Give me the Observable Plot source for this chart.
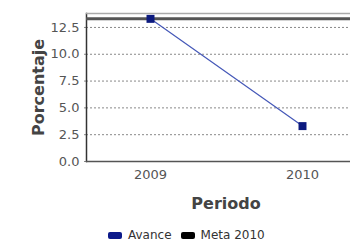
<!DOCTYPE html>
<html>
<head>
<meta charset="utf-8">
<script src="https://cdn.jsdelivr.net/npm/d3@7"></script>
<script src="https://cdn.jsdelivr.net/npm/@observablehq/plot@0.6"></script>
<style>
  html, body { margin: 0; padding: 0; overflow: hidden; background: #fff; width: 350px; height: 242px; }
  #chart { width: 350px; overflow: hidden; }
  #chart svg { display: block; max-width: none !important; }
  #legend { height: 16px; display: flex; align-items: center; padding-left: 108px; padding-top: 1px;
    font: 12px "DejaVu Sans", sans-serif; color: #333; }
  .sw { display: inline-block; width: 14px; height: 7px; border-radius: 2px; margin-right: 6px; }
  .item { display: flex; align-items: center; margin-right: 9px; }
</style>
</head>
<body>
<div id="chart"></div>
<div id="legend"></div>
<script>
const periodos = ["2009", "2010"];
const avance = [13.3, 3.3];
const meta = [13.3];
const yTicks = [0, 2.5, 5, 7.5, 10, 12.5];
const gridTicks = [2.5, 5, 7.5, 10, 12.5];
const series = ["Avance", "Meta 2010"];
const seriesColors = ["#0c1a8a", "#000000"];

const data = periodos.map((p, i) => ({periodo: p, valor: avance[i]}));

const plot = Plot.plot({
  width: 365,
  height: 226,
  marginLeft: 86,
  marginRight: 0,
  marginTop: 13,
  marginBottom: 65,
  style: {fontFamily: "DejaVu Sans, sans-serif", fontSize: "13px", color: "#555", background: "#fff", maxWidth: "none"},
  x: {type: "point", domain: periodos, padding: 0.412},
  y: {domain: [0, 13.8]},
  marks: [
    Plot.gridY(gridTicks, {stroke: "#888", strokeOpacity: 1, strokeDasharray: "2,2"}),
    Plot.axisY(yTicks, {tickSize: 4, tickPadding: 3, tickFormat: d3.format(".1f"), stroke: "#888", strokeDasharray: "2,2", label: null, fill: "#555"}),
    Plot.axisX({tickSize: 0, tickPadding: 8, label: null, fill: "#555"}),
    Plot.frame({anchor: "left", stroke: "#333", strokeWidth: 1.5}),
    Plot.ruleY([13.8], {stroke: "#aaa", strokeWidth: 1.5}),
    Plot.ruleY([0], {stroke: "#555", strokeWidth: 1.5}),
    Plot.ruleY(meta, {stroke: "#555", strokeWidth: 3}),
    Plot.line(data, {x: "periodo", y: "valor", stroke: "#4558b8", strokeWidth: 1.2}),
    Plot.dot(data, {x: "periodo", y: "valor", symbol: "square", r: 4.5, fill: "#0c1a7f", stroke: "none"}),
    Plot.text(["Porcentaje"], {frameAnchor: "left", rotate: -90, dx: -48, textAnchor: "middle", lineAnchor: "middle", fontSize: 16, fontWeight: "bold", fill: "#444"}),
    Plot.text(["Periodo"], {frameAnchor: "bottom", dy: 42, textAnchor: "middle", lineAnchor: "middle", fontSize: 16, fontWeight: "bold", fill: "#444"})
  ]
});
document.getElementById("chart").appendChild(plot);

const legend = document.getElementById("legend");
series.forEach((s, i) => {
  const item = document.createElement("span");
  item.className = "item";
  const sw = document.createElement("span");
  sw.className = "sw";
  sw.style.background = seriesColors[i];
  item.appendChild(sw);
  item.appendChild(document.createTextNode(s));
  legend.appendChild(item);
});
</script>
</body>
</html>
